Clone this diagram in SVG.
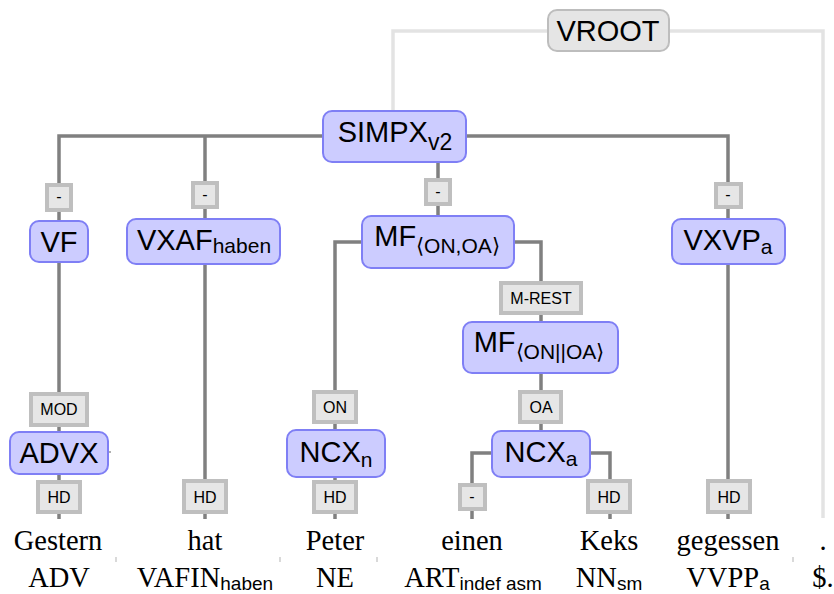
<svg xmlns="http://www.w3.org/2000/svg" width="834" height="594" viewBox="0 0 834 594">
<style>
.n{fill:#ccccff;stroke:#7f7ff5;stroke-width:2}
.r{fill:#e5e5e5;stroke:#bdbdbd;stroke-width:2}
.l{fill:#e6e6e6;stroke:#bfbfbf;stroke-width:4}
.e{fill:none;stroke:#808080;stroke-width:3.5}
.v{fill:none;stroke:#e3e3e3;stroke-width:3.5}
.t{font-family:"Liberation Sans",Arial,sans-serif;font-size:29px;text-anchor:middle;fill:#000}
.s{font-size:21px}
.lt{font-family:"Liberation Sans",Arial,sans-serif;font-size:16px;text-anchor:middle;fill:#000}
.w{font-family:"Liberation Serif","Times New Roman",serif;font-size:28.5px;text-anchor:middle;fill:#000}
.ws{font-family:"Liberation Sans",Arial,sans-serif;font-size:19px}
.sep{stroke:#cccccc;stroke-width:1.5}
</style>
<g id="connectors">
<polyline class="v" points="393,112 393,31 823,31 823,518"/>
<polyline class="e" points="59,221 59,136 728,136 728,219"/>
<line class="e" x1="205" y1="136" x2="205" y2="219"/>
<line class="e" x1="438" y1="160" x2="438" y2="216"/>
<line class="e" x1="59" y1="262" x2="59" y2="432"/>
<line class="e" x1="59" y1="474" x2="59" y2="519"/>
<line class="e" x1="205" y1="264" x2="205" y2="519"/>
<polyline class="e" points="362,242 335,242 335,430"/>
<line class="e" x1="335" y1="477" x2="335" y2="519"/>
<polyline class="e" points="514,242 541,242 541,322"/>
<line class="e" x1="541" y1="373" x2="541" y2="431"/>
<polyline class="e" points="492,453 472,453 472,519"/>
<polyline class="e" points="590,453 610,453 610,519"/>
<line class="e" x1="728" y1="264" x2="728" y2="519"/>
<line x1="108" y1="452" x2="111" y2="452" stroke="#b0b0b0" stroke-width="2"/>
</g>
<g id="edge-labels">
<g id="lbl-vf"><rect class="l" x="47" y="185" width="24" height="25"/><text class="lt" x="59" y="202">-</text></g>
<g id="lbl-vxaf"><rect class="l" x="193" y="183" width="24" height="24"/><text class="lt" x="205" y="200">-</text></g>
<g id="lbl-mf"><rect class="l" x="426" y="180" width="24" height="24"/><text class="lt" x="438" y="197">-</text></g>
<g id="lbl-vxvp"><rect class="l" x="716" y="184" width="25" height="23"/><text class="lt" x="728" y="200">-</text></g>
<g id="lbl-mrest"><rect class="l" x="501" y="283" width="80" height="30"/><text class="lt" x="541" y="304">M-REST</text></g>
<g id="lbl-mod"><rect class="l" x="31" y="394" width="56" height="31"/><text class="lt" x="59" y="415">MOD</text></g>
<g id="lbl-on"><rect class="l" x="314" y="392" width="42" height="30"/><text class="lt" x="335" y="413">ON</text></g>
<g id="lbl-oa"><rect class="l" x="520" y="392" width="41" height="30"/><text class="lt" x="541" y="413">OA</text></g>
<g id="lbl-hd1"><rect class="l" x="38" y="482" width="42" height="30"/><text class="lt" x="59" y="503">HD</text></g>
<g id="lbl-hd2"><rect class="l" x="184" y="481" width="42" height="31"/><text class="lt" x="205" y="503">HD</text></g>
<g id="lbl-hd3"><rect class="l" x="314" y="482" width="42" height="30"/><text class="lt" x="335" y="503">HD</text></g>
<g id="lbl-det"><rect class="l" x="460" y="485" width="25" height="24"/><text class="lt" x="472" y="502">-</text></g>
<g id="lbl-hd4"><rect class="l" x="588" y="481" width="42" height="31"/><text class="lt" x="609" y="503">HD</text></g>
<g id="lbl-hd5"><rect class="l" x="708" y="481" width="42" height="31"/><text class="lt" x="729" y="503">HD</text></g>
</g>
<g id="vroot"><rect class="r" x="548" y="10" width="121" height="41" rx="9"/><text class="t" x="608" y="41">VROOT</text></g>
<g id="simpx"><rect class="n" x="323" y="111" width="143" height="51" rx="9"/><text class="t" x="395" y="142">SIMPX<tspan class="s" dy="8" style="font-size:23px">v2</tspan></text></g>
<g id="vf"><rect class="n" x="30" y="221" width="58" height="41" rx="9"/><text class="t" x="59" y="252">VF</text></g>
<g id="vxaf"><rect class="n" x="127" y="219" width="153" height="45" rx="9"/><text class="t" x="204" y="250">VXAF<tspan class="s" dy="3">haben</tspan></text></g>
<g id="mf1"><rect class="n" x="362" y="216" width="152" height="52" rx="9"/><text class="t" x="437" y="246">MF<tspan class="s" dy="7">⟨ON,OA⟩</tspan></text></g>
<g id="vxvp"><rect class="n" x="672" y="219" width="113" height="45" rx="9"/><text class="t" x="728" y="250">VXVP<tspan class="s" dy="4">a</tspan></text></g>
<g id="mf2"><rect class="n" x="463" y="322" width="155" height="51" rx="9"/><text class="t" x="539" y="352">MF<tspan class="s" dy="7">⟨ON||OA⟩</tspan></text></g>
<g id="advx"><rect class="n" x="10" y="432" width="98" height="42" rx="9"/><text class="t" x="59" y="463">ADVX</text></g>
<g id="ncxn"><rect class="n" x="287" y="430" width="98" height="47" rx="9"/><text class="t" x="336" y="462">NCX<tspan class="s" dy="5">n</tspan></text></g>
<g id="ncxa"><rect class="n" x="492" y="431" width="98" height="46" rx="9"/><text class="t" x="541" y="462">NCX<tspan class="s" dy="4">a</tspan></text></g>
<g id="tokens">
<text class="w" x="58" y="550">Gestern</text>
<text class="w" x="205" y="550">hat</text>
<text class="w" x="335" y="550">Peter</text>
<text class="w" x="472" y="550">einen</text>
<text class="w" x="609" y="550">Keks</text>
<text class="w" x="728" y="550">gegessen</text>
<text class="w" x="823" y="550">.</text>
<text class="w" x="59" y="587">ADV</text>
<text class="w" x="205" y="587">VAFIN<tspan class="ws" dy="3">haben</tspan></text>
<text class="w" x="335" y="587">NE</text>
<text class="w" x="473" y="587">ART<tspan class="ws" dy="3">indef asm</tspan></text>
<text class="w" x="609" y="587">NN<tspan class="ws" dy="3">sm</tspan></text>
<text class="w" x="728" y="587">VVPP<tspan class="ws" dy="3">a</tspan></text>
<text class="w" x="823" y="587">$.</text>
</g>
<g id="separators">
<line class="sep" x1="116" y1="557" x2="116" y2="562"/>
<line class="sep" x1="280" y1="557" x2="280" y2="562"/>
<line class="sep" x1="377" y1="557" x2="377" y2="562"/>
<line class="sep" x1="793" y1="557" x2="793" y2="562"/>
</g>
</svg>
